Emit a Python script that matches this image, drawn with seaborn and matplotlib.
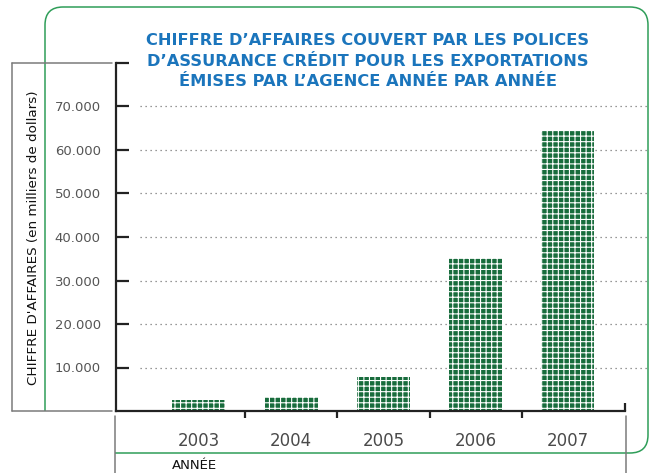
import matplotlib
matplotlib.use("Agg")
import matplotlib.pyplot as plt
import seaborn as sns
import pandas as pd
from matplotlib.path import Path
from matplotlib.patches import PathPatch
from matplotlib.lines import Line2D
from matplotlib.ticker import FixedLocator

# ---------------------------
# Data
# ---------------------------
years = ["2003", "2004", "2005", "2006", "2007"]
turnover = [2500, 3300, 7750, 35200, 64400]
ytick_values = [10000, 20000, 30000, 40000, 50000, 60000, 70000]
ytick_labels = ["10.000", "20.000", "30.000", "40.000", "50.000", "60.000", "70.000"]

title = ("CHIFFRE D\u2019AFFAIRES COUVERT PAR LES POLICES\n"
         "D\u2019ASSURANCE CRÉDIT POUR LES EXPORTATIONS\n"
         "ÉMISES PAR L\u2019AGENCE ANNÉE PAR ANNÉE")
ylabel = "CHIFFRE D'AFFAIRES (en milliers de dollars)"
xlabel = "ANNÉE"

df = pd.DataFrame({"annee": years, "ca": turnover})

sns.set_style("white")
plt.rcParams["font.family"] = ["DejaVu Sans"]
plt.rcParams["hatch.linewidth"] = 0.8

W, H = 650, 473
fig = plt.figure(figsize=(6.5, 4.73), dpi=100)


def fx(x):
    return x / W


def fy(y):
    return 1 - y / H


ax = fig.add_axes([fx(116), fy(411), fx(625) - fx(116), fy(63) - fy(411)])

bar_green = "#186c3c"
sns.barplot(data=df, x="annee", y="ca", ax=ax, color=bar_green, width=0.575,
            saturation=1, hatch="+++", edgecolor="white", linewidth=0)

ax.set_xlim(-0.9, 4.62)
ax.set_ylim(0, 80000)

# y axis: ticks pointing inward, labels in grey
ax.yaxis.set_major_locator(FixedLocator(ytick_values + [80000]))
ax.set_yticklabels(ytick_labels + [""])
ax.tick_params(axis="y", left=True, direction="in", length=9, width=1.6,
               color="#222222", pad=11, labelsize=9.5, labelcolor="#555555")

# x axis: labels at the bars, small ticks between bars
ax.set_xticks(range(len(years)))
ax.set_xticklabels(years)
ax.tick_params(axis="x", length=0, pad=15, labelsize=12, labelcolor="#4a4a4a")
ax.set_xticks([0.5, 1.5, 2.5, 3.5], minor=True)
ax.tick_params(axis="x", which="minor", bottom=True, direction="out", length=5,
               width=1.6, color="#222222")

ax.set_xlabel("")
ax.set_ylabel("")

for side in ["top", "right"]:
    ax.spines[side].set_visible(False)
for side in ["left", "bottom"]:
    ax.spines[side].set_color("#222222")
    ax.spines[side].set_linewidth(1.6)

# dotted grid lines
for v in ytick_values:
    ax.axhline(v, xmin=0.047, xmax=1.05, color="#777777", linestyle=(0, (1, 3)),
               linewidth=0.9, clip_on=False, zorder=0)

# small upward tick at right end of x axis
ax.plot([1, 1], [0, 0.022], transform=ax.transAxes, color="#222222",
        linewidth=1.6, clip_on=False, solid_capstyle="butt")

# ---------------------------
# Frame and decoration
# ---------------------------
frame_green = "#2f9e59"
r = 18
verts = [(45, 411), (45, 7 + r), (45, 7), (45 + r, 7),
         (648 - r, 7), (648, 7), (648, 7 + r),
         (648, 453 - r), (648, 453), (648 - r, 453),
         (115, 453)]
codes = [Path.MOVETO, Path.LINETO, Path.CURVE3, Path.CURVE3,
         Path.LINETO, Path.CURVE3, Path.CURVE3,
         Path.LINETO, Path.CURVE3, Path.CURVE3,
         Path.LINETO]
frame = Path([(fx(x), fy(y)) for x, y in verts], codes)
fig.patches.append(PathPatch(frame, transform=fig.transFigure, fill=False,
                             edgecolor=frame_green, linewidth=1.1))

grey = "#7a7a7a"
seg = [
    [(12, 63), (112, 63)],
    [(12, 63), (12, 411)],
    [(12, 411), (112, 411)],
    [(115, 416), (115, 473)],
    [(626, 416), (626, 473)],
]
for s in seg:
    fig.lines.append(Line2D([fx(p[0]) for p in s], [fy(p[1]) for p in s],
                            transform=fig.transFigure, color=grey, linewidth=1.1))

# texts
fig.text(fx(368), fy(61), title, ha="center", va="center", color="#1b75bc",
         fontsize=11.7, fontweight="bold", linespacing=1.42)
fig.text(fx(34), fy(238), ylabel, rotation=90, ha="center", va="center",
         color="#111111", fontsize=9.7)
fig.text(fx(172), fy(465), xlabel, ha="left", va="center", color="#111111",
         fontsize=9.5)

plt.savefig("out.png", dpi=100)
plt.close()
